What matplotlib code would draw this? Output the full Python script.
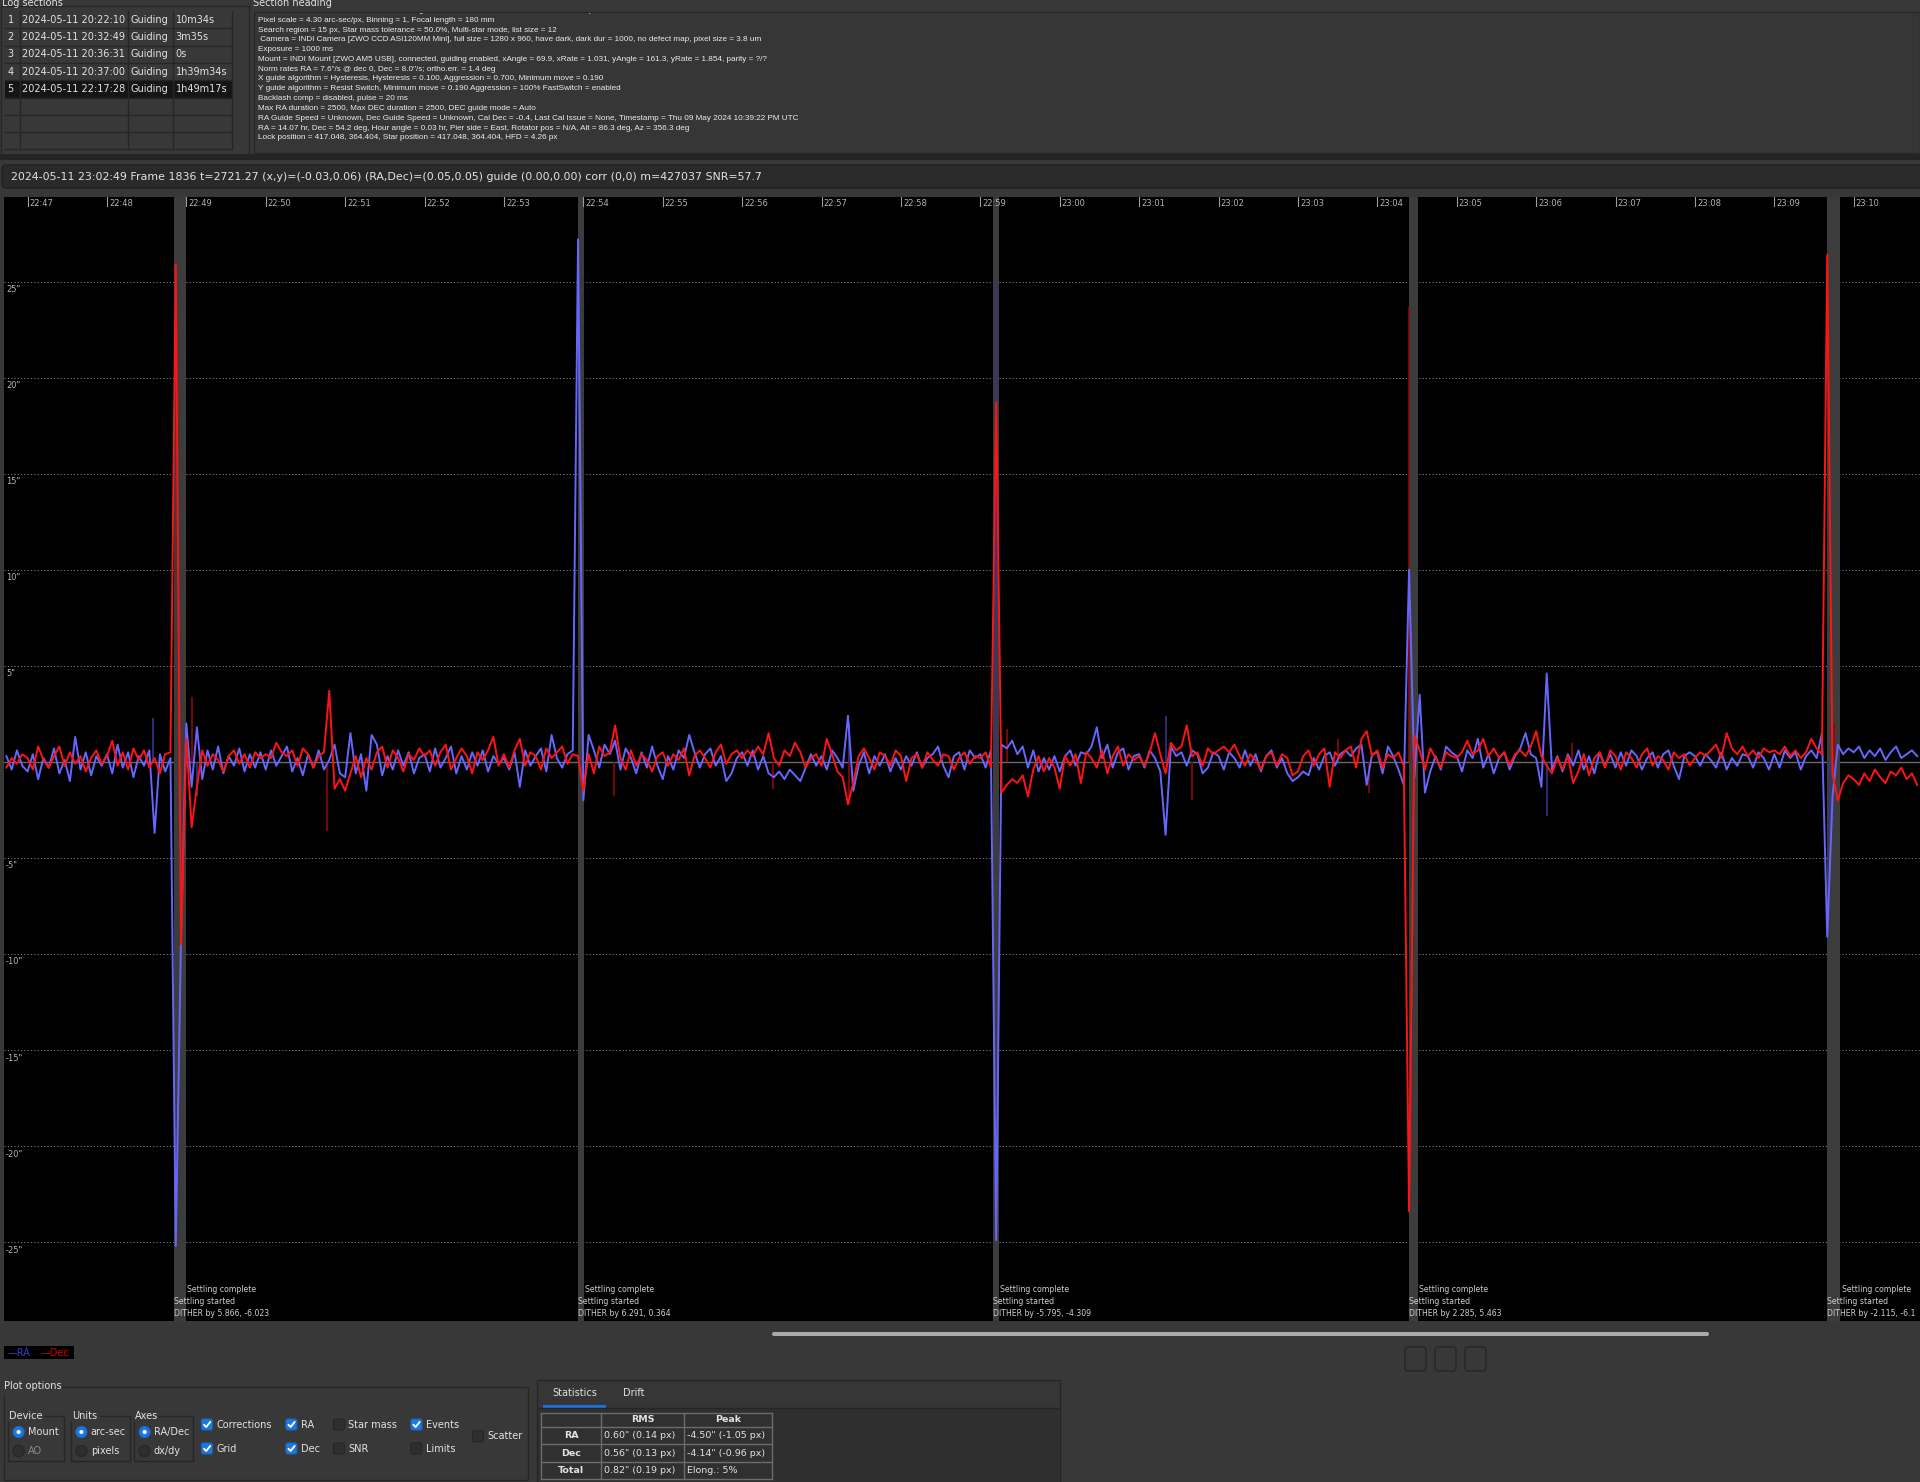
import matplotlib
matplotlib.use('Agg')
import matplotlib.pyplot as plt
import matplotlib.transforms as mtransforms
from matplotlib.patches import Rectangle, FancyBboxPatch, Circle
import numpy as np

# ---------------- data ----------------
# guide errors in arc-sec, one sample every 4 s starting 22:46:44 (t in s from 22:47:00)
t_first = -16
t_step = 4
ra_arcsec = [
    0.3, -0.4, 0.6, -0.2,                                                       # 22:46
    -0.5, 0.4, -0.9, 0.2, -0.3, 0.7, -0.6, 0.1, -1.0, 1.3, -0.4, 0.5, -0.7, 0.3, -0.2,   # 22:47
    0.4, -0.6, 0.9, -0.3, 0.5, -0.8, 0.3, -0.2, 0.6, -3.7, 0.4, -0.5, 0.2, -25.2, -9.0,  # 22:48
    2.0, -1.3, 1.8, -0.9, 0.6, -0.4, 0.8, -0.6, 0.3, -0.2, 0.7, -0.5, 0.4, -0.3, 0.5,    # 22:49
    -0.4, 0.6, -0.2, 0.3, 0.8, -0.5, 0.2, -0.7, 0.4, -0.3, 0.6, -0.4, 0.1, 0.9, -0.6,    # 22:50
    -0.8, 1.5, -0.6, 0.4, -1.5, 1.4, 0.9, -0.7, 0.3, -0.4, 0.6, -0.2, 0.5, -0.6, 0.2,    # 22:51
    0.4, -0.5, 0.7, -0.3, 0.2, 0.8, -0.6, 0.3, -0.4, 0.5, -0.2, 0.6, -0.5, 0.3, -0.1,    # 22:52
    0.2, -0.4, 0.5, -1.3, 0.6, -0.2, 0.3, 0.7, -0.5, 1.4, 0.2, -0.3, 0.4, 0.6, 27.2,     # 22:53
    -2.0, 1.4, 0.6, -0.3, 0.9, 0.4, 1.1, -0.4, 0.7, 0.2, -0.6, 0.5, -0.3, 0.8, -0.2,     # 22:54
    -0.9, 0.3, -0.4, 0.6, 0.2, 1.4, 0.5, -0.3, 0.4, 0.7, -0.2, 0.3, -1.0, -0.6, 0.2,     # 22:55
    0.5, -0.2, 0.6, -0.4, 0.3, -0.6, -0.8, -0.5, -0.9, -0.4, -0.7, -1.0, -0.3, 0.4, -0.2,  # 22:56
    0.3, -0.4, 0.6, 0.2, -0.3, 2.4, -1.5, -0.2, 0.5, -0.6, 0.3, -0.2, 0.4, -0.5, 0.2,    # 22:57
    -0.4, 0.3, -0.2, 0.5, -0.3, 0.2, 0.4, 0.8, -0.2, -0.8, 0.3, 0.5, -0.4, 0.6, 0.2,     # 22:58
    0.4, -0.3, 0.6, -24.9, 0.9, 0.7, 1.1, 0.4, 0.8, -0.3, 0.6, -0.5, 0.2, -0.4, 0.3,     # 22:59
    -0.5, 0.3, 0.6, -0.2, 0.5, 0.4, 0.8, 1.8, 0.2, 0.9, -0.3, 0.5, 0.7, -0.4, 0.3,       # 23:00
    0.4, -0.3, 0.6, 0.2, -0.5, -3.8, 0.8, 0.3, 0.5, -0.2, 0.6, 0.4, -0.6, -0.3, 0.5,     # 23:01
    0.3, -0.4, 0.5, 0.2, -0.3, 0.6, -0.2, 0.4, -0.5, 0.3, 0.6, -0.3, 0.2, -0.6, -1.0,    # 23:02
    -0.8, -0.5, -0.7, 0.2, -0.4, 0.3, 0.5, -0.2, 0.4, 0.6, 0.3, 0.7, 0.9, -1.2, 0.4,     # 23:03
    0.5, -0.6, 0.8, 0.3, -0.4, -1.2, 10.0, -0.8, 3.5, -1.6, -0.5, 0.3, -0.4, 0.8, 0.5,   # 23:04
    0.3, -0.5, 0.6, 0.2, 1.2, -0.3, 0.4, -0.6, 0.2, 0.5, -0.4, 0.3, 0.7, 1.5, 0.4,       # 23:05
    0.2, -1.3, 4.6, -0.4, 0.3, -0.5, 0.4, -0.2, 0.6, -0.4, 0.3, -0.6, 0.5, -0.2, 0.4,    # 23:06
    -0.3, 0.5, -0.2, 0.6, 0.3, -0.4, 0.2, 0.5, -0.3, 0.4, 0.6, -0.2, -0.9, 0.3, 0.5,     # 23:07
    0.3, -0.2, 0.4, 0.1, -0.3, 0.5, -0.4, 0.2, -0.2, 0.4, 0.3, -0.3, 0.5, 0.2, -0.4,     # 23:08
    0.4, -0.3, 0.6, 0.2, 0.5, -0.4, 0.3, 0.6, 0.2, 1.5, -9.1, -1.8, 0.9, 0.4, 0.7,       # 23:09
    0.5, 0.8, 0.2, 0.6, 0.3, 0.7, 0.1, 0.5, 0.8, 0.2, 0.4, 0.6, 0.3,                    # 23:10
]
dec_arcsec = [
    -0.3, 0.2, -0.1, 0.4,
    0.2, -0.4, 0.8, 0.1, -0.3, 0.3, 0.8, -0.2, 0.5, -0.1, 0.3, -0.5, 0.2, 0.6, -0.1,
    0.3, 1.1, -0.2, 0.5, -0.4, 0.7, 0.1, 0.6, -0.3, 0.2, -0.6, 0.4, 0.5, 25.9, -9.5,
    1.2, -3.4, -1.3, 0.6, -0.2, 0.4, 0.1, -0.5, 0.3, 0.6, -0.1, 0.4, -0.3, 0.5, 0.2,
    0.4, 0.2, 1.0, 0.5, 0.3, 0.6, -0.2, 0.7, 0.4, -0.3, 0.3, 0.5, 3.7, -1.4, -0.9,
    -1.5, -0.6, 0.3, -0.8, 0.2, -0.4, 0.5, 0.8, -0.3, 0.6, 0.2, -0.5, 0.4, 0.1, 0.7,
    0.3, 0.6, -0.2, 0.5, 0.9, -0.4, 0.2, 0.7, 0.3, -0.6, 0.5, 0.1, 0.6, 1.3, -0.2,
    0.4, -0.3, 0.6, 1.2, -0.2, 0.5, 0.3, -0.4, 0.7, 0.2, 0.5, 0.8, -0.1, 0.4, 0.3,
    -1.5, 0.4, -0.6, 0.8, 0.3, 0.5, 1.9, 0.2, -0.4, 0.6, -0.2, 0.4, 0.1, -0.5, 0.3,
    0.5, -0.2, 0.4, 0.1, 0.7, -0.7, 0.3, 0.6, 0.2, -0.3, 0.5, 0.9, -0.1, 0.4, 0.6,
    0.2, 0.6, 0.3, 0.8, 0.4, 1.5, 0.2, -0.2, 0.6, 0.3, 1.0, 0.5, -0.3, 0.2, 0.4,
    -0.2, 1.2, 0.4, -0.5, -0.8, -2.2, -1.1, 0.3, 0.7, 0.2, -0.4, 0.5, 0.3, -0.2, 0.6,
    0.3, -1.0, 0.2, 0.4, -0.3, 0.5, 0.1, -0.2, 0.4, 0.3, -0.4, 0.2, 0.5, -0.1, 0.3,
    0.2, 0.5, -0.3, 18.7, -1.6, -1.2, -0.9, -1.1, -0.7, -1.8, -0.4, 0.3, -0.5, 0.2, -0.3,
    -1.4, 0.3, -0.2, 0.4, -1.1, 0.5, 0.2, -0.3, 0.6, -0.6, 0.3, 0.8, -0.2, 0.4, 0.1,
    0.3, -0.2, 0.5, 1.5, 0.4, -0.6, 1.0, 0.6, 0.8, 1.9, 0.3, 0.5, -0.2, 0.7, 0.4,
    0.6, 0.8, 0.5, 0.9, 0.3, -0.2, 0.4, 0.1, -0.4, 0.3, 0.5, -0.2, 0.4, 0.2, -0.7,
    -0.5, 0.3, 0.6, -0.2, 0.4, 0.7, -1.3, 0.5, 0.2, 0.6, 0.8, -0.3, 1.2, 1.6, 0.3,
    0.6, -0.3, 0.4, 0.2, 0.5, -0.2, -23.4, 1.4, 0.6, -0.4, 0.7, 0.2, -0.3, 0.5, 0.3,
    0.2, 0.5, 1.1, 0.4, 0.6, 1.2, 0.3, 0.7, 0.2, 0.5, -0.2, 0.4, 0.6, 0.3, 0.8,
    1.6, 0.3, -0.2, -0.6, 0.2, -0.4, 0.3, -1.1, -0.5, 0.4, -0.7, 0.2, 0.5, -0.3, 0.6,
    0.3, -0.4, 0.5, 0.2, -0.3, 0.4, 0.7, -0.2, 0.3, 0.1, -0.4, 0.5, 0.2, 0.4, -0.2,
    0.2, 0.5, 0.3, 0.6, 0.9, 0.2, 1.5, 0.7, 0.4, 0.8, 0.3, 0.6, 0.2, 0.7, 0.5,
    0.6, 0.4, 0.8, 0.3, 0.6, 0.2, 0.5, 1.2, 0.7, 0.4, 26.4, -0.6, -2.0, -1.1, -0.7,
    -0.9, -1.2, -0.6, -1.0, -0.4, -0.8, -1.1, -0.5, -0.7, -0.3, -0.9, -0.6, -1.2,
]

# correction bars (dim), s from 22:47:00 and arc-sec
ra_corr_t = [95, 128, 621, 732, 860, 1148, 1362]
ra_corr_v = [2.3, -1.8, 2.0, 25.0, 2.4, -2.8, -6.0]
dec_corr_t = [124, 226, 443, 563, 621, 740, 880, 990, 1014, 1044, 1167, 1365]
dec_corr_v = [3.4, -3.6, -1.8, -1.4, -2.2, 1.7, -2.0, 1.2, -1.6, 23.7, 1.0, 2.0]

# dither / settling events
settle_start = [111.0, 415.6, 729.8, 1043.8, 1360.0]
settle_end = [119.8, 420.4, 734.0, 1050.6, 1369.8]
dither_text = ["DITHER by 5.866, -6.023", "DITHER by 6.291, 0.364", "DITHER by -5.795, -4.309",
               "DITHER by 2.285, 5.463", "DITHER by -2.115, -6.1"]

tick_labels = ["22:47", "22:48", "22:49", "22:50", "22:51", "22:52", "22:53", "22:54",
               "22:55", "22:56", "22:57", "22:58", "22:59", "23:00", "23:01", "23:02",
               "23:03", "23:04", "23:05", "23:06", "23:07", "23:08", "23:09", "23:10"]
grid_vals = [25, 20, 15, 10, 5, -5, -10, -15, -20, -25]

log_rows = [("1", "2024-05-11 20:22:10", "Guiding", "10m34s"),
            ("2", "2024-05-11 20:32:49", "Guiding", "3m35s"),
            ("3", "2024-05-11 20:36:31", "Guiding", "0s"),
            ("4", "2024-05-11 20:37:00", "Guiding", "1h39m34s"),
            ("5", "2024-05-11 22:17:28", "Guiding", "1h49m17s")]

heading_lines = [
    "Dither = both axes, Dither scale = 1.000, Image noise reduction = none, Guide-frame time lapse = 0, Server enabled",
    "Pixel scale = 4.30 arc-sec/px, Binning = 1, Focal length = 180 mm",
    "Search region = 15 px, Star mass tolerance = 50.0%, Multi-star mode, list size = 12",
    " Camera = INDI Camera [ZWO CCD ASI120MM Mini], full size = 1280 x 960, have dark, dark dur = 1000, no defect map, pixel size = 3.8 um",
    "Exposure = 1000 ms",
    "Mount = INDI Mount [ZWO AM5 USB], connected, guiding enabled, xAngle = 69.9, xRate = 1.031, yAngle = 161.3, yRate = 1.854, parity = ?/?",
    "Norm rates RA = 7.6\"/s @ dec 0, Dec = 8.0\"/s; ortho.err. = 1.4 deg",
    "X guide algorithm = Hysteresis, Hysteresis = 0.100, Aggression = 0.700, Minimum move = 0.190",
    "Y guide algorithm = Resist Switch, Minimum move = 0.190 Aggression = 100% FastSwitch = enabled",
    "Backlash comp = disabled, pulse = 20 ms",
    "Max RA duration = 2500, Max DEC duration = 2500, DEC guide mode = Auto",
    "RA Guide Speed = Unknown, Dec Guide Speed = Unknown, Cal Dec = -0.4, Last Cal Issue = None, Timestamp = Thu 09 May 2024 10:39:22 PM UTC",
    "RA = 14.07 hr, Dec = 54.2 deg, Hour angle = 0.03 hr, Pier side = East, Rotator pos = N/A, Alt = 86.3 deg, Az = 356.3 deg",
    "Lock position = 417.048, 364.404, Star position = 417.048, 364.404, HFD = 4.26 px",
]
status_text = ("2024-05-11 23:02:49 Frame 1836 t=2721.27 (x,y)=(-0.03,0.06) (RA,Dec)=(0.05,0.05) "
               "guide (0.00,0.00) corr (0,0) m=427037 SNR=57.7")

stats_cols = ["", "RMS", "Peak"]
stats_rows = ["RA", "Dec", "Total"]
stats_rms = ["0.60\" (0.14 px)", "0.56\" (0.13 px)", "0.82\" (0.19 px)"]
stats_peak = ["-4.50\" (-1.05 px)", "-4.14\" (-0.96 px)", "Elong.: 5%"]

# ---------------- figure ----------------
W, H = 1920, 1482
BG = '#383838'
TXT = '#e2e2e2'
fig = plt.figure(figsize=(W / 100, H / 100), dpi=100)
fig.patch.set_facecolor(BG)

ui = fig.add_axes([0, 0, 1, 1])
ui.set_xlim(0, W)
ui.set_ylim(H, 0)
ui.axis('off')

# ---- Log sections ----
ui.text(2, 3.5, "Log sections", fontsize=7, color=TXT, va='center', ha='left')
ui.add_patch(Rectangle((0.5, 6), 248, 149, fill=False, edgecolor='#262626', lw=1))
col_x = [5, 20, 128, 173, 232]
row_y0, row_h = 11, 17.3
for r in range(8):
    y = row_y0 + r * row_h
    fc = '#151515' if r == 4 else BG
    ui.add_patch(Rectangle((col_x[0], y), col_x[-1] - col_x[0], row_h, facecolor=fc,
                           edgecolor='none'))
    ui.plot([col_x[0], col_x[-1]], [y + row_h, y + row_h], color='#262626', lw=1)
for cx in col_x[1:]:
    ui.plot([cx, cx], [row_y0, row_y0 + 8 * row_h], color='#262626', lw=1)
for r, row in enumerate(log_rows):
    y = row_y0 + (r + 0.5) * row_h
    for c, s in enumerate(row):
        ui.text(col_x[c] + 2.5, y, s, fontsize=7, color=TXT, va='center', ha='left')

# ---- Section heading ----
ui.text(253, 3.5, "Section heading", fontsize=7, color=TXT, va='center', ha='left')
hbox = Rectangle((253.5, 12), W - 254, 141, facecolor='#363636', edgecolor='#272727', lw=1)
ui.add_patch(hbox)
clip = mtransforms.Bbox.from_extents(254.5, H - 152, W, H - 13)
for i, line in enumerate(heading_lines):
    t = ui.text(258, 10.4 + i * 9.8, line, fontsize=5.9, color='#ececec', va='center',
                ha='left', family='Liberation Sans')
    t.set_clip_box(clip)
    t.set_clip_on(True)

# separator + status bar
ui.add_patch(Rectangle((0, 154), W, 6, facecolor='#242424', edgecolor='none'))
ui.add_patch(FancyBboxPatch((2, 165), W + 10, 23, boxstyle='round,pad=0,rounding_size=4',
                            facecolor='#2a2a2a', edgecolor='#202020', lw=1))
ui.text(11, 176.5, status_text, fontsize=7.9, color=TXT, va='center', ha='left')

# ---------------- guiding graph ----------------
ax = fig.add_axes([4 / W, (H - 1321) / H, (W - 4) / W, (1321 - 197) / H])
ax.set_facecolor('black')
ax.set_xlim(-17.8, 1430.1)
ax.set_ylim(-29.1, 29.4)
for s in ax.spines.values():
    s.set_visible(False)
ax.set_xticks([])
ax.set_yticks([])

for v in grid_vals:
    ax.axhline(v, color='#808080', lw=0.7, ls=(0, (1.2, 2.2)), zorder=1)
ax.axhline(0, color='#6a6a6a', lw=1.0, zorder=1)

for s0, s1 in zip(settle_start, settle_end):
    ax.axvspan(s0, s1, color='#3c3c3c', lw=0, zorder=2)

t_ra = t_first + t_step * np.arange(len(ra_arcsec))
t_dec = t_first + t_step * np.arange(len(dec_arcsec))
ax.vlines(ra_corr_t, 0, ra_corr_v, color='#34348c', lw=1.2, zorder=3)
ax.vlines(dec_corr_t, 0, dec_corr_v, color='#8a0a0a', lw=1.2, zorder=3)
ax.plot(t_ra, ra_arcsec, color='#6666ff', lw=1.4, zorder=4)
ax.plot(t_dec, dec_arcsec, color='#ff1414', lw=1.4, zorder=5)

trans = mtransforms.blended_transform_factory(ax.transData, ax.transAxes)
ph = 1321 - 197
tick_t = [60 * i for i in range(len(tick_labels))]
for tt, lab in zip(tick_t, tick_labels):
    ax.plot([tt, tt], [1, 1 - 9 / ph], transform=trans, color='#9c9c9c', lw=0.8, zorder=6)
    ax.annotate(lab, xy=(tt, 1), xycoords=trans, xytext=(1.5, -1.5), textcoords='offset points',
                ha='left', va='top', fontsize=6, color='#b4b4b4', zorder=6)
for v in grid_vals:
    ax.annotate(f'{v}"', xy=(0, v), xycoords=('axes fraction', 'data'), xytext=(1.5, -2.5),
                textcoords='offset points', ha='left', va='top', fontsize=6, color='#b4b4b4')

for s0, s1, dt in zip(settle_start, settle_end, dither_text):
    ax.annotate("Settling complete", xy=(s1, 31 / ph), xycoords=trans, xytext=(1, 0),
                textcoords='offset points', ha='left', va='center', fontsize=5.6, color='#cfcfcf', zorder=7)
    ax.annotate("Settling started", xy=(s0, 19 / ph), xycoords=trans, xytext=(0, 0),
                textcoords='offset points', ha='left', va='center', fontsize=5.6, color='#cfcfcf', zorder=7)
    ax.annotate(dt, xy=(s0, 7 / ph), xycoords=trans, xytext=(0, 0),
                textcoords='offset points', ha='left', va='center', fontsize=5.6, color='#cfcfcf', zorder=7)

# ---------------- below the graph ----------------
ui.add_patch(FancyBboxPatch((772, 1332), 937, 4, boxstyle='round,pad=0,rounding_size=2',
                            facecolor='#a9a9a9', edgecolor='none'))
for bx in [1405, 1435, 1465]:
    ui.add_patch(FancyBboxPatch((bx, 1347), 21, 24, boxstyle='round,pad=0,rounding_size=3',
                                facecolor='none', edgecolor='#262626', lw=1))

# legend
ui.add_patch(Rectangle((4, 1346), 70, 13, facecolor='black', edgecolor='none'))
ui.text(8, 1352.5, "\u2014RA", fontsize=7, color='#3c3cd2', va='center', ha='left')
ui.text(41, 1352.5, "\u2014Dec", fontsize=7, color='#d20000', va='center', ha='left')

# plot options group
ui.text(4, 1386, "Plot options", fontsize=7, color=TXT, va='center', ha='left')
ui.plot([62, 528, 528, 4, 4], [1387, 1387, 1480, 1480, 1396], color='#262626', lw=1)


def group(x0, x1, y0, y1, label):
    w = len(label) * 5.6 + 2
    ui.plot([x0 + w, x1, x1, x0, x0], [y0, y0, y1, y1, y0 + 6], color='#262626', lw=1)
    ui.text(x0 + 1, y0, label, fontsize=7, color=TXT, va='center', ha='left')


def radio(cx, cy, label, on, enabled=True):
    if on:
        ui.add_patch(Circle((cx, cy), 5.6, facecolor='#1f78dc', edgecolor='#1a65bb', lw=0.8))
        ui.add_patch(Circle((cx, cy), 2.0, facecolor='white', edgecolor='none'))
    else:
        ui.add_patch(Circle((cx, cy), 5.6, facecolor='#2e2e2e', edgecolor='#262626', lw=0.8))
    ui.text(cx + 9.3, cy, label, fontsize=7, color=TXT if enabled else '#8a8a8a',
            va='center', ha='left')


def check(cx, cy, label, on):
    fc = '#1f78dc' if on else '#2e2e2e'
    ec = '#1a65bb' if on else '#262626'
    ui.add_patch(FancyBboxPatch((cx - 5.5, cy - 5.5), 11, 11, boxstyle='round,pad=0,rounding_size=2',
                                facecolor=fc, edgecolor=ec, lw=0.8))
    if on:
        ui.plot([cx - 3, cx - 0.8, cx + 3.3], [cy + 0.2, cy + 2.5, cy - 2.6], color='white', lw=1.3,
                solid_capstyle='round', solid_joinstyle='round')
    ui.text(cx + 9.5, cy, label, fontsize=7, color=TXT, va='center', ha='left')


group(8, 63.6, 1416, 1461, "Device")
group(71.4, 130.4, 1416, 1461, "Units")
group(134.3, 193.2, 1416, 1461, "Axes")
radio(18.6, 1432, "Mount", True)
radio(18.6, 1451, "AO", False, enabled=False)
radio(81.4, 1432, "arc-sec", True)
radio(81.4, 1451, "pixels", False)
radio(144.6, 1432, "RA/Dec", True)
radio(144.6, 1451, "dx/dy", False)
check(207, 1424.5, "Corrections", True)
check(207, 1448.5, "Grid", True)
check(291.4, 1424.5, "RA", True)
check(291.4, 1448.5, "Dec", True)
check(339, 1424.5, "Star mass", False)
check(339, 1448.5, "SNR", False)
check(416.4, 1424.5, "Events", True)
check(416.4, 1448.5, "Limits", False)
check(478, 1436.3, "Scatter", False)

# statistics panel
ui.add_patch(Rectangle((537, 1380), 523, 110, facecolor='#363636', edgecolor='#262626', lw=1))
ui.add_patch(Rectangle((538, 1408), 521, 80, facecolor='#2f2f2f', edgecolor='none'))
ui.plot([538, 1059], [1407.5, 1407.5], color='#262626', lw=1)
ui.add_patch(Rectangle((542.5, 1405), 63.5, 2.5, facecolor='#1e70d8', edgecolor='none'))
ui.text(552, 1393, "Statistics", fontsize=7, color=TXT, va='center', ha='left')
ui.text(623, 1393, "Drift", fontsize=7, color=TXT, va='center', ha='left')

sx = [541, 601, 684, 772]
sy = [1413, 1427, 1444, 1462, 1479]
ui.add_patch(Rectangle((sx[0], sy[0]), sx[-1] - sx[0], sy[-1] - sy[0], facecolor='#303030',
                       edgecolor='none'))
for x in sx:
    ui.plot([x, x], [sy[0], sy[-1]], color='#6c6c6c', lw=1)
for y in sy:
    ui.plot([sx[0], sx[-1]], [y, y], color='#6c6c6c', lw=1)
for c, lab in enumerate(stats_cols):
    if lab:
        ui.text((sx[c] + sx[c + 1]) / 2, (sy[0] + sy[1]) / 2, lab, fontsize=6.8, color=TXT,
                fontweight='bold', va='center', ha='center')
for r, lab in enumerate(stats_rows):
    yc = (sy[r + 1] + sy[r + 2]) / 2
    ui.text((sx[0] + sx[1]) / 2, yc, lab, fontsize=6.8, color=TXT, fontweight='bold',
            va='center', ha='center')
    ui.text(sx[1] + 3, yc, stats_rms[r], fontsize=6.8, color=TXT, va='center', ha='left')
    ui.text(sx[2] + 3, yc, stats_peak[r], fontsize=6.8, color=TXT, va='center', ha='left')

fig.savefig('out.png', dpi=100, facecolor=BG)
plt.close()
print("OK: out.png")
